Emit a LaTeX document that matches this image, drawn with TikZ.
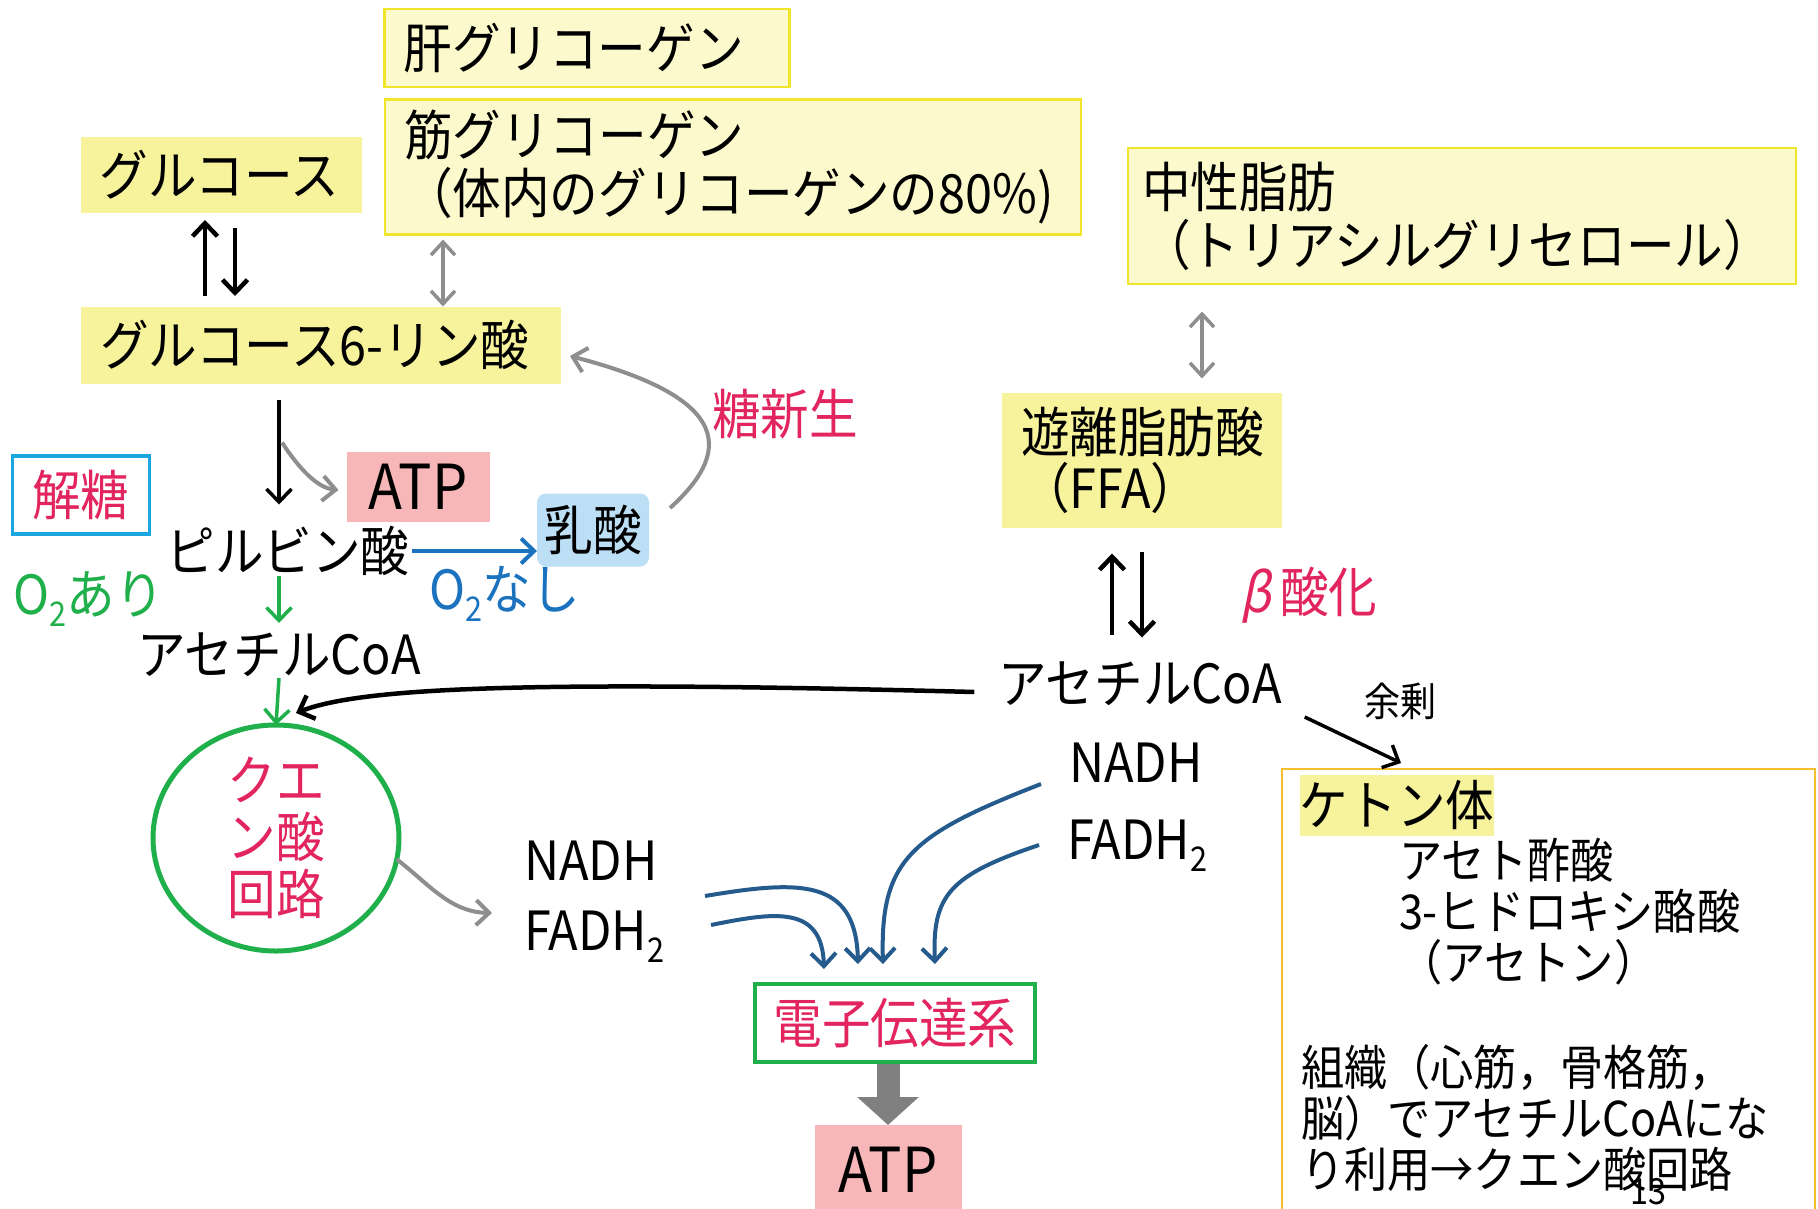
\documentclass[tikz,border=0pt]{standalone}
\usepackage{fontspec}
\setmainfont{Noto Sans CJK JP}[FakeStretch=0.9]
\usetikzlibrary{arrows.meta,calc,shapes.geometric}
\definecolor{lyfill}{HTML}{FCF9CC}
\definecolor{lyline}{HTML}{F0E52A}
\definecolor{yfill}{HTML}{F7F29C}
\definecolor{atpfill}{HTML}{F7B6B8}
\definecolor{crim}{HTML}{E2245F}
\definecolor{grn}{HTML}{1FAF4B}
\definecolor{blu}{HTML}{1B72BE}
\definecolor{lbfill}{HTML}{BDDFF5}
\definecolor{cyn}{HTML}{1AA7E0}
\definecolor{dblu}{HTML}{245A8C}
\definecolor{gry}{HTML}{8E8E8E}
\definecolor{org}{HTML}{F5BE2E}
\newcommand\subtwo{\raisebox{-0.22em}{\fontsize{34}{34}\selectfont 2}}
\begin{document}
\begin{tikzpicture}[x=1pt,y=-1pt,
  every node/.style={inner sep=0pt, outer sep=0pt, font=\fontsize{54}{58}\selectfont},
  lybox/.style={draw=lyline, line width=2.5pt, fill=lyfill, align=left},
  ybox/.style={fill=yfill, align=left},
  atpbox/.style={fill=atpfill, font=\fontsize{62}{62}\selectfont},
  tip/.style={-{Straight Barb[length=13pt,width=25pt]}},
  dtip/.style={{Straight Barb[length=13pt,width=24pt]}-{Straight Barb[length=13pt,width=24pt]}},
  blk/.style={draw=black, line width=4.5pt, tip},
  garr/.style={draw=grn, line width=3.5pt, tip},
  barr/.style={draw=blu, line width=4pt, tip},
  gyarr/.style={draw=gry, line width=4pt, tip},
  gydbl/.style={draw=gry, line width=3.5pt, dtip},
  dbarr/.style={draw=dblu, line width=4pt, tip},
  small/.style={font=\fontsize{48}{51}\selectfont}
]
\clip (0,0) rectangle (1818,1208);
\fill[white] (0,0) rectangle (1818,1208);

% boxes top-left
\node[lybox, minimum width=405pt, minimum height=78pt, text width=367pt] (liver) at (587,48) {肝グリコーゲン};
\node[lybox, minimum width=696pt, minimum height=135pt, text width=658pt] (musc) at (733,167) {筋グリコーゲン\\（体内のグリコーゲンの80\%)};
\node[ybox, minimum width=281pt, minimum height=76pt, text width=243pt] (glc) at (221,175) {グルコース};
\node[ybox, minimum width=480pt, minimum height=77pt, text width=442pt] (g6p) at (321,345) {グルコース6-リン酸};
\node[atpbox, minimum width=143pt, minimum height=70pt] (atp1) at (418,487) {ATP};
\node[draw=cyn, line width=3.5pt, minimum width=137pt, minimum height=78pt, text=crim] (kaitou) at (81,495) {解糖};
\node (pyr) at (288,551) {ピルビン酸};
\node[fill=lbfill, rounded corners=9pt, minimum width=112pt, minimum height=73pt] (lac) at (593,530) {乳酸};
\node[text=blu] (o2n) at (505,594) {O\subtwo なし};
\node[text=grn] (o2a) at (89,599) {O\subtwo あり};
\node (acl) at (279,655) {アセチルCoA};
\node[ellipse, draw=grn, line width=5pt, minimum width=246pt, minimum height=226pt] (tca) at (276,838) {};
\node[text=crim, align=center, font=\fontsize{54}{57}\selectfont] (tcatxt) at (tca.center) {クエ\\ン酸\\回路};
\node[anchor=west] (nadhL) at (524,861) {NADH};
\node[anchor=west] (fadhL) at (524,937) {FADH\subtwo};
\node[text=crim] (tsn) at (785,414) {糖新生};

% right side
\node[lybox, minimum width=668pt, minimum height=136pt, text width=640pt] (tg) at (1462,216) {中性脂肪\\（トリアシルグリセロール）};
\node[ybox, minimum width=280pt, minimum height=135pt, text width=242pt, font=\fontsize{54}{56}\selectfont] (ffa) at (1142,460) {遊離脂肪酸\\（FFA）};
\node[text=crim] (beta) at (1309,595) {{\addfontfeature{FakeSlant=0.2}β}\,酸化};
\node (acr) at (1140,684) {アセチルCoA};
\node[font=\fontsize{40}{40}\selectfont] (yojo) at (1400,701) {余剰};
\node[anchor=west] (nadhR) at (1069,763) {NADH};
\node[anchor=west] (fadhR) at (1067,846) {FADH\subtwo};
\node[draw=org, line width=2.5pt, minimum width=533pt, minimum height=470pt] (ketbox) at (1548.5,1004) {};
\node[ybox, minimum width=192pt, minimum height=61pt] (ketlbl) at (1397,805) {ケトン体};
\node[small, anchor=west, align=left] (ketlist) at (1399,912) {アセト酢酸\\3-ヒドロキシ酪酸\\（アセトン）};
\node[small, anchor=west, align=left] (ketnote) at (1301,1118) {組織（心筋，骨格筋，\\脳）でアセチルCoAにな\\り利用→クエン酸回路};
\node[font=\fontsize{36}{36}\selectfont] (pgnum) at (1648,1192) {13};

% bottom
\node[draw=grn, line width=4pt, minimum width=280pt, minimum height=78pt, text=crim] (etc) at (895,1023) {電子伝達系};
\node[atpbox, minimum width=147pt, minimum height=90pt] (atp2) at (888,1170) {ATP};

% connectors
\draw[blk] ([xshift=-16pt,yshift=-83pt]glc.south) -- ([xshift=-16pt,yshift=-7pt]glc.south);
\draw[blk] ([xshift=14pt,yshift=-15pt]glc.south) -- ([xshift=14pt,yshift=-83pt]glc.south);
\draw[gydbl] ([xshift=58pt,yshift=-5pt]musc.south west) -- ([xshift=58pt,yshift=-72pt]musc.south west);
\draw[blk, line width=3.5pt] ([xshift=198pt,yshift=-16pt]g6p.south west) -- ([xshift=198pt,yshift=-121pt]g6p.south west);
\draw[gyarr] ([xshift=201pt,yshift=-59pt]g6p.south west) .. controls (300,470) and (318,488) .. ([xshift=-8pt,yshift=-3pt]atp1.west);
\draw[barr] ([xshift=2pt]pyr.east) -- (pyr.east -| lac.west);
\draw[garr] ([yshift=79pt]acl.center) -- ([yshift=32pt]acl.center);
\draw[garr] ([yshift=-23pt]acl.center) -- (tca.north);
\draw[gyarr] ([xshift=21pt,yshift=22pt]lac.east) .. controls (740,445) and (720,395) .. ([xshift=9pt,yshift=-11pt]g6p.east);
\draw[gyarr] (tca.-10) .. controls (430,885) and (450,912) .. ([xshift=-32pt,yshift=24pt]fadhL.west);
\draw[gydbl] ([xshift=60pt,yshift=81pt]ffa.north) -- ([xshift=60pt,yshift=14pt]ffa.north);
\draw[blk] ([xshift=-30pt,yshift=-107pt]ffa.south) -- ([xshift=-30pt,yshift=-26pt]ffa.south);
\draw[blk] ([yshift=-24pt]ffa.south) -- ([yshift=-110pt]ffa.south);
\draw[blk] ([xshift=-24pt,yshift=-8pt]acr.west) .. controls (520,680) and (360,688) .. ([xshift=20pt,yshift=12pt]tca.north);
\draw[blk, line width=3.5pt] ([xshift=23pt,yshift=-33pt]acr.east) -- ([xshift=119pt,yshift=6pt]ketbox.north west);
\draw[dbarr] ([xshift=181pt,yshift=-35pt]nadhL.west) .. controls (800,880) and (856,878) .. ([xshift=103pt,yshift=20pt]etc.north west);
\draw[dbarr] ([xshift=187pt,yshift=12pt]fadhL.west) .. controls (775,912) and (822,905) .. ([xshift=69pt,yshift=15pt]etc.north west);
\draw[dbarr] ([xshift=-28pt,yshift=-21pt]nadhR.west) .. controls (910,835) and (880,860) .. ([xshift=128pt,yshift=20pt]etc.north west);
\draw[dbarr] ([xshift=-28pt,yshift=1pt]fadhR.west) .. controls (950,875) and (932,895) .. ([xshift=180pt,yshift=20pt]etc.north west);
\draw[draw=gry!90!black, line width=23pt, -{Triangle[length=28pt,width=60pt]}] ([yshift=-2pt]etc.south -| atp2.north) -- (atp2.north);
\end{tikzpicture}
\end{document}
